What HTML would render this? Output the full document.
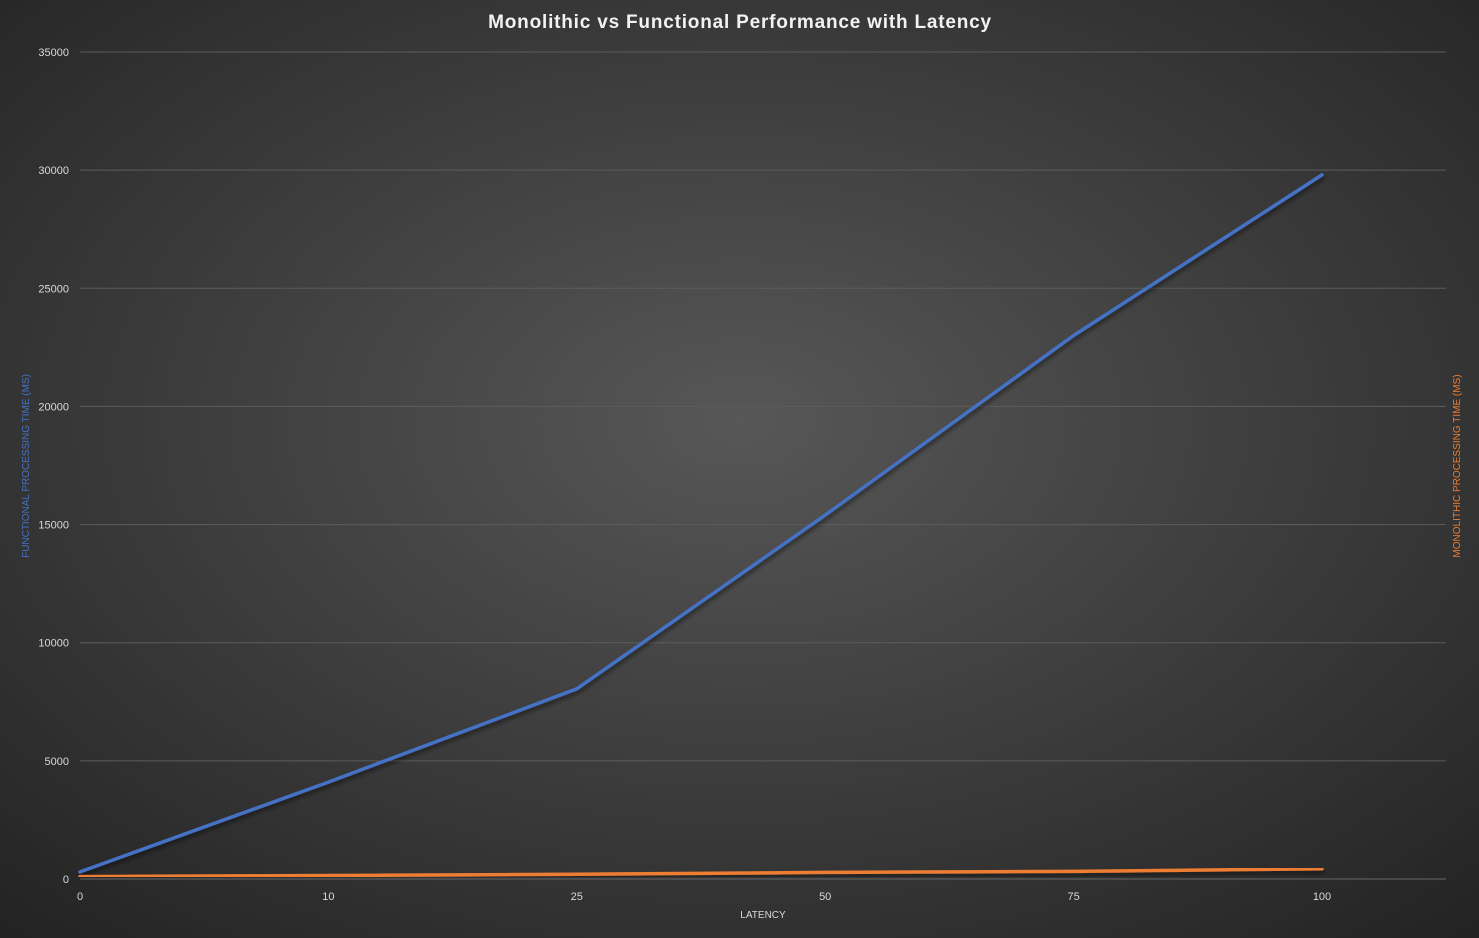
<!DOCTYPE html>
<html><head><meta charset="utf-8"><style>
html,body{margin:0;padding:0;width:1479px;height:938px;overflow:hidden;background:#2e2e2e}
svg{display:block;font-family:"Liberation Sans",sans-serif}
</style></head><body>
<svg id="chart" width="1479" height="938">
<defs>
<radialGradient id="bg" cx="0.5" cy="0.45" r="0.75">
<stop offset="0" stop-color="#575757"/><stop offset="1" stop-color="#222"/>
</radialGradient>
<filter id="sh" x="-5%" y="-5%" width="110%" height="110%"><feDropShadow dx="1" dy="3" stdDeviation="2" flood-color="#000" flood-opacity="0.5"/></filter>
</defs>
<rect width="1479" height="938" fill="url(#bg)"/>
<text x="740" y="28" text-anchor="middle" fill="#f2f2f2" font-size="19" font-weight="bold" letter-spacing="0.8">Monolithic vs Functional Performance with Latency</text>
<g id="grid"></g>
<g id="ylabels"></g>
<g id="xlabels"></g>
<g id="series"></g>
<text x="763" y="918" text-anchor="middle" fill="#d9d9d9" font-size="10">LATENCY</text>
<text transform="translate(29,466) rotate(-90)" text-anchor="middle" fill="#4472c4" font-size="10">FUNCTIONAL PROCESSING TIME (MS)</text>
<text transform="translate(1460,466) rotate(-90)" text-anchor="middle" fill="#ed7d31" font-size="10">MONOLITHIC PROCESSING TIME (MS)</text>
</svg>
<script>
const categories = ["0","10","25","50","75","100"];
const functionalValues = [300, 4100, 8050, 15400, 23000, 29800];
const monolithicValues = [100, 150, 200, 280, 320, 430];
const yTicks = [0,5000,10000,15000,20000,25000,30000,35000];

const NS="http://www.w3.org/2000/svg";
const x0=80, step=248.4, yBase=879, yTop=52, yMax=35000, xEnd=1446;
const xs=i=>x0+i*step;
const ys=v=>yBase-(v/yMax)*(yBase-yTop);
function mk(tag,attrs,parent,txt){const e=document.createElementNS(NS,tag);for(const k in attrs)e.setAttribute(k,attrs[k]);if(txt!==undefined)e.textContent=txt;parent.appendChild(e);return e;}
const grid=document.getElementById('grid'),yl=document.getElementById('ylabels'),xl=document.getElementById('xlabels'),ser=document.getElementById('series');
yTicks.forEach(t=>{
  const l=mk('line',{x1:x0,x2:xEnd,y1:ys(t),y2:ys(t),stroke:t===0?'#666':'#5c5c5c','stroke-width':1},grid);
  
  
  const tx=mk('text',{x:69,y:ys(t)+4,'text-anchor':'end',fill:'#d9d9d9','font-size':11},yl,String(t));
  
  
});
categories.forEach((c,i)=>{
  const tx=mk('text',{x:xs(i),y:900,'text-anchor':'middle',fill:'#d9d9d9','font-size':11},xl,c);
  
  
});
function line(vals,color,name){
  const pts=vals.map((v,i)=>xs(i).toFixed(1)+','+ys(v).toFixed(1)).join(' ');
  const p=mk('polyline',{points:pts,fill:'none',stroke:color,'stroke-width':3.5,'stroke-linejoin':'round','stroke-linecap':'round',filter:'url(#sh)'},ser);
  
  
}
line(functionalValues,'#4472c4','functional-series-line');
line(monolithicValues,'#ed7d31','monolithic-series-line');
</script>
</body></html>
